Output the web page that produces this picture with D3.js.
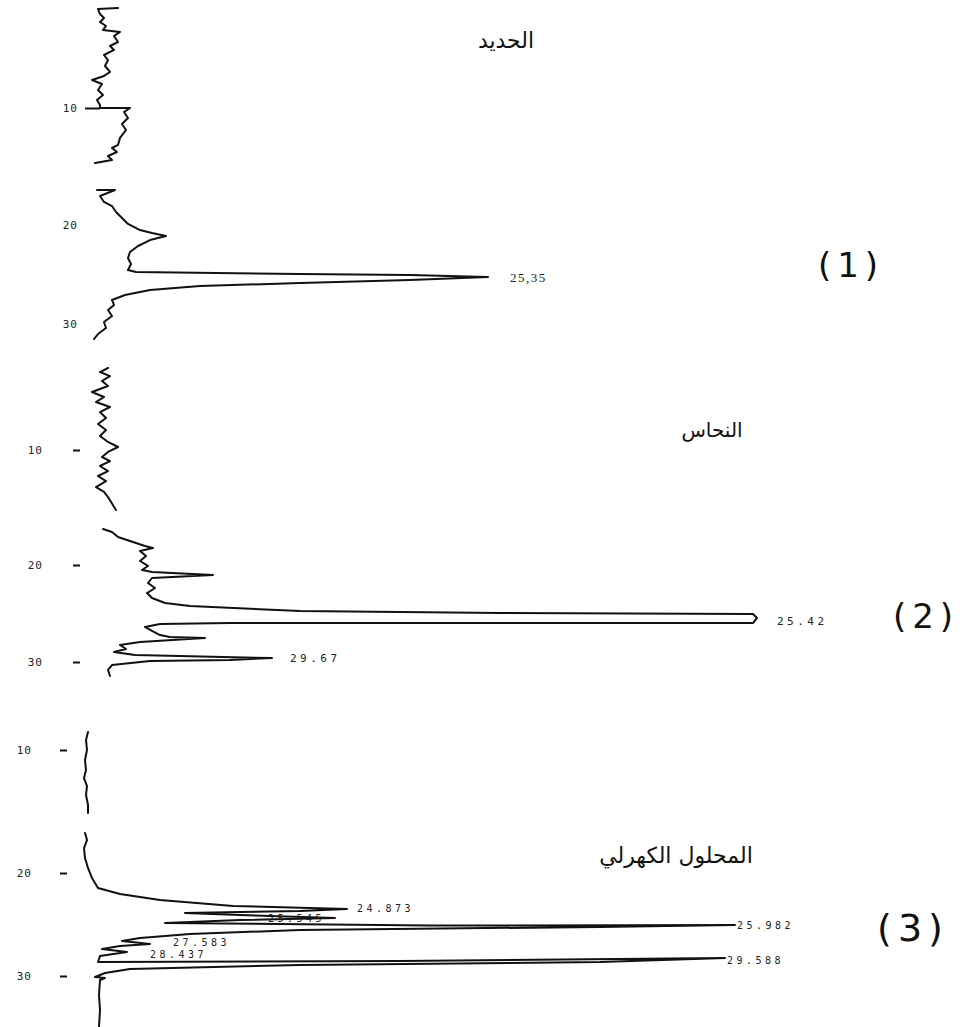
<!DOCTYPE html>
<html>
<head>
<meta charset="utf-8">
<script src="https://d3js.org/d3.v7.min.js"></script>
<style>
body { margin: 0; background: #fff; }
.tick text { font-family: "DejaVu Sans Mono", monospace; font-size: 11px; fill: #222; }
.peak { font-family: "DejaVu Sans Mono", monospace; font-size: 11px; fill: #222; }
.title { font-family: "DejaVu Sans", sans-serif; fill: #111; }
.num { font-family: "DejaVu Sans", sans-serif; fill: #111; }
</style>
</head>
<body>
<svg id="chart" width="963" height="1027"></svg>
<script>
// [time, signal], null = pen lifted
const iron = [[1.45,38],[1.54,18],[1.97,20],[2.31,24],[2.65,20],[2.99,26],[3.33,23],[3.50,40],[3.85,34],[4.36,38],[4.70,30],[5.04,34],[5.47,24],[5.90,28],[6.41,25],[6.92,30],[7.26,24],[7.61,12],[7.95,22],[8.46,18],[8.89,23],[9.32,17],[9.74,20],[10.0,20],[10.0,50],[10.34,44],[10.85,48],[11.37,42],[11.88,46],[12.56,40],[13.16,38],[13.42,32],[13.76,37],[14.10,28],[14.44,32],[14.70,15],
  null,
  [17.01,17],[17.01,35],[17.52,20],[18.03,24],[18.38,32],[18.89,36],[19.40,42],[19.91,48],[20.51,60],[20.81,72],[21.11,86],[21.52,70],[22.12,58],[22.73,50],[23.33,48],[23.94,51],[24.55,48],[24.75,56],[24.95,220],[25.05,330],[25.25,408],[25.56,330],[25.86,220],[26.16,120],[26.57,70],[27.07,45],[27.58,32],[28.08,34],[28.59,28],[29.19,32],[29.80,24],[30.40,26],[31.01,18],[31.52,14]];

const copper = [[2.87,28],[3.22,20],[3.57,30],[4.00,22],[4.43,28],[4.96,12],[5.39,24],[5.83,16],[6.26,30],[6.70,20],[7.22,26],[7.74,18],[8.26,26],[8.78,20],[9.30,28],[9.74,38],[10.17,28],[10.61,22],[10.96,30],[11.39,20],[11.83,28],[12.26,18],[12.70,26],[13.22,16],[13.65,24],[14.09,28],[15.22,36],
  null,
  [16.87,23],[17.13,32],[17.57,38],[17.91,50],[18.35,65],[18.52,73],[18.78,60],[19.22,66],[19.65,60],[20.10,68],[20.52,62],[20.72,72],[21.03,133],[21.34,72],[21.86,68],[22.37,75],[22.89,67],[23.40,72],[23.92,85],[24.23,110],[24.74,220],[24.95,420],[25.05,673],[25.46,677],[25.98,673],[25.98,420],[25.98,150],[26.08,80],[26.39,65],[26.80,72],[27.22,80],[27.42,90],[27.53,125],[27.94,60],[28.25,40],[28.66,46],[28.97,34],[29.28,55],[29.59,192],[29.79,150],[29.90,70],[30.31,32],[30.82,28],[31.44,30]];

const electrolyte = [[8.54,8],[9.19,6],[10.0,7],[10.81,5],[11.63,6],[12.28,4],[12.93,7],[13.66,6],[14.47,8],[15.12,8],
  null,
  [16.75,5],[17.32,7],[17.97,4],[18.78,5],[19.59,8],[20.49,12],[21.46,18],[22.04,40],[22.62,80],[23.20,153],[23.50,267],[23.69,220],[23.79,160],[23.88,105],[24.08,160],[24.37,255],[24.56,160],[24.85,85],[25.10,350],[25.05,655],[25.24,520],[25.53,220],[25.92,110],[26.31,60],[26.60,42],[26.89,70],[27.09,40],[27.38,22],[27.67,47],[28.06,20],[28.64,18],[28.54,320],[28.25,645],[28.64,520],[28.93,220],[29.32,50],[29.71,25],[30.10,15],[30.19,25],[30.39,20],[31.84,19],[33.30,20],[34.95,19]];

// peak labels: text, time, signal where the print head wrote it
const ironPeaks = [["25,35",25.25,430]];
const copperPeaks = [["25.42",25.77,697],["29.67",29.59,210]];
const electrolytePeaks = [["24.873",23.40,277],["25.545",24.37,188],["25.982",25.10,657],["27.583",26.70,93],["28.437",27.90,70],["29.588",28.45,647]];

const tickTimes = [10, 20, 30];
const names = ["الحديد", "النحاس", "المحلول الكهرلي"];
const panelNumbers = ["(1)", "(2)", "(3)"];

const svg = d3.select("#chart");

// signal runs to the right, time runs down the paper
const x = d3.scaleLinear().domain([0, 800]).range([80, 880]);

const panels = [
  {data: iron, peaks: ironPeaks, yr: [108, 225, 324], axisX: 100, tick: 0, pad: 22},
  {data: copper, peaks: copperPeaks, yr: [450, 565, 662], axisX: 80, tick: 7, pad: 30},
  {data: electrolyte, peaks: electrolytePeaks, yr: [750, 873, 976], axisX: 67, tick: 7, pad: 28}
];

const nameSpots = [[506, 40, 22], [712, 430, 20], [676, 855, 22]];
const numberSpots = [[851, 265, 34], [926, 616, 34], [913, 928, 38]];

panels.forEach(function(p, i) {
  let y = d3.scaleLinear().domain(tickTimes).range(p.yr);

  let line = d3.line()
    .defined(function(d) { return d !== null; })
    .x(function(d) { return x(d[1]); })
    .y(function(d) { return y(d[0]); });

  svg.append("path")
    .datum(p.data)
    .attr("d", line)
    .attr("fill", "none")
    .attr("stroke", "#111")
    .attr("stroke-width", 2)
    .attr("stroke-linejoin", "round")
    .attr("stroke-linecap", "round");

  let ax = svg.append("g")
    .attr("transform", `translate(${p.axisX},0)`)
    .call(d3.axisLeft(y).tickValues(tickTimes).tickSize(p.tick).tickPadding(p.pad).tickFormat(d3.format("d")));
  ax.select(".domain").remove();
  ax.selectAll(".tick line").attr("stroke", "#111").attr("stroke-width", 2);
  ax.selectAll(".tick text").attr("letter-spacing", 1);
  if (i == 0) {
    ax.selectAll(".tick line").filter(function(d) { return d == 10; }).attr("x2", -15);
  }

  svg.selectAll(".peak" + i)
    .data(p.peaks)
    .join("text")
    .attr("class", "peak")
    .attr("x", function(d) { return x(d[2]); })
    .attr("y", function(d) { return y(d[1]); })
    .attr("dy", "0.35em")
    .attr("letter-spacing", i == 0 ? 1.5 : 3.5)
    .style("font-family", i == 0 ? "'Liberation Serif', serif" : null)
    .style("font-size", i == 0 ? "13px" : (i == 2 ? "10px" : null))
    .text(function(d) { return d[0]; });

  svg.append("text")
    .attr("class", "title")
    .attr("x", nameSpots[i][0])
    .attr("y", nameSpots[i][1])
    .attr("dy", "0.35em")
    .attr("text-anchor", "middle")
    .style("font-size", nameSpots[i][2] + "px")
    .text(names[i]);

  svg.append("text")
    .attr("class", "num")
    .attr("x", numberSpots[i][0])
    .attr("y", numberSpots[i][1])
    .attr("dy", "0.35em")
    .attr("text-anchor", "middle")
    .attr("letter-spacing", 6)
    .style("font-size", numberSpots[i][2] + "px")
    .text(panelNumbers[i]);
});
</script>
</body>
</html>
